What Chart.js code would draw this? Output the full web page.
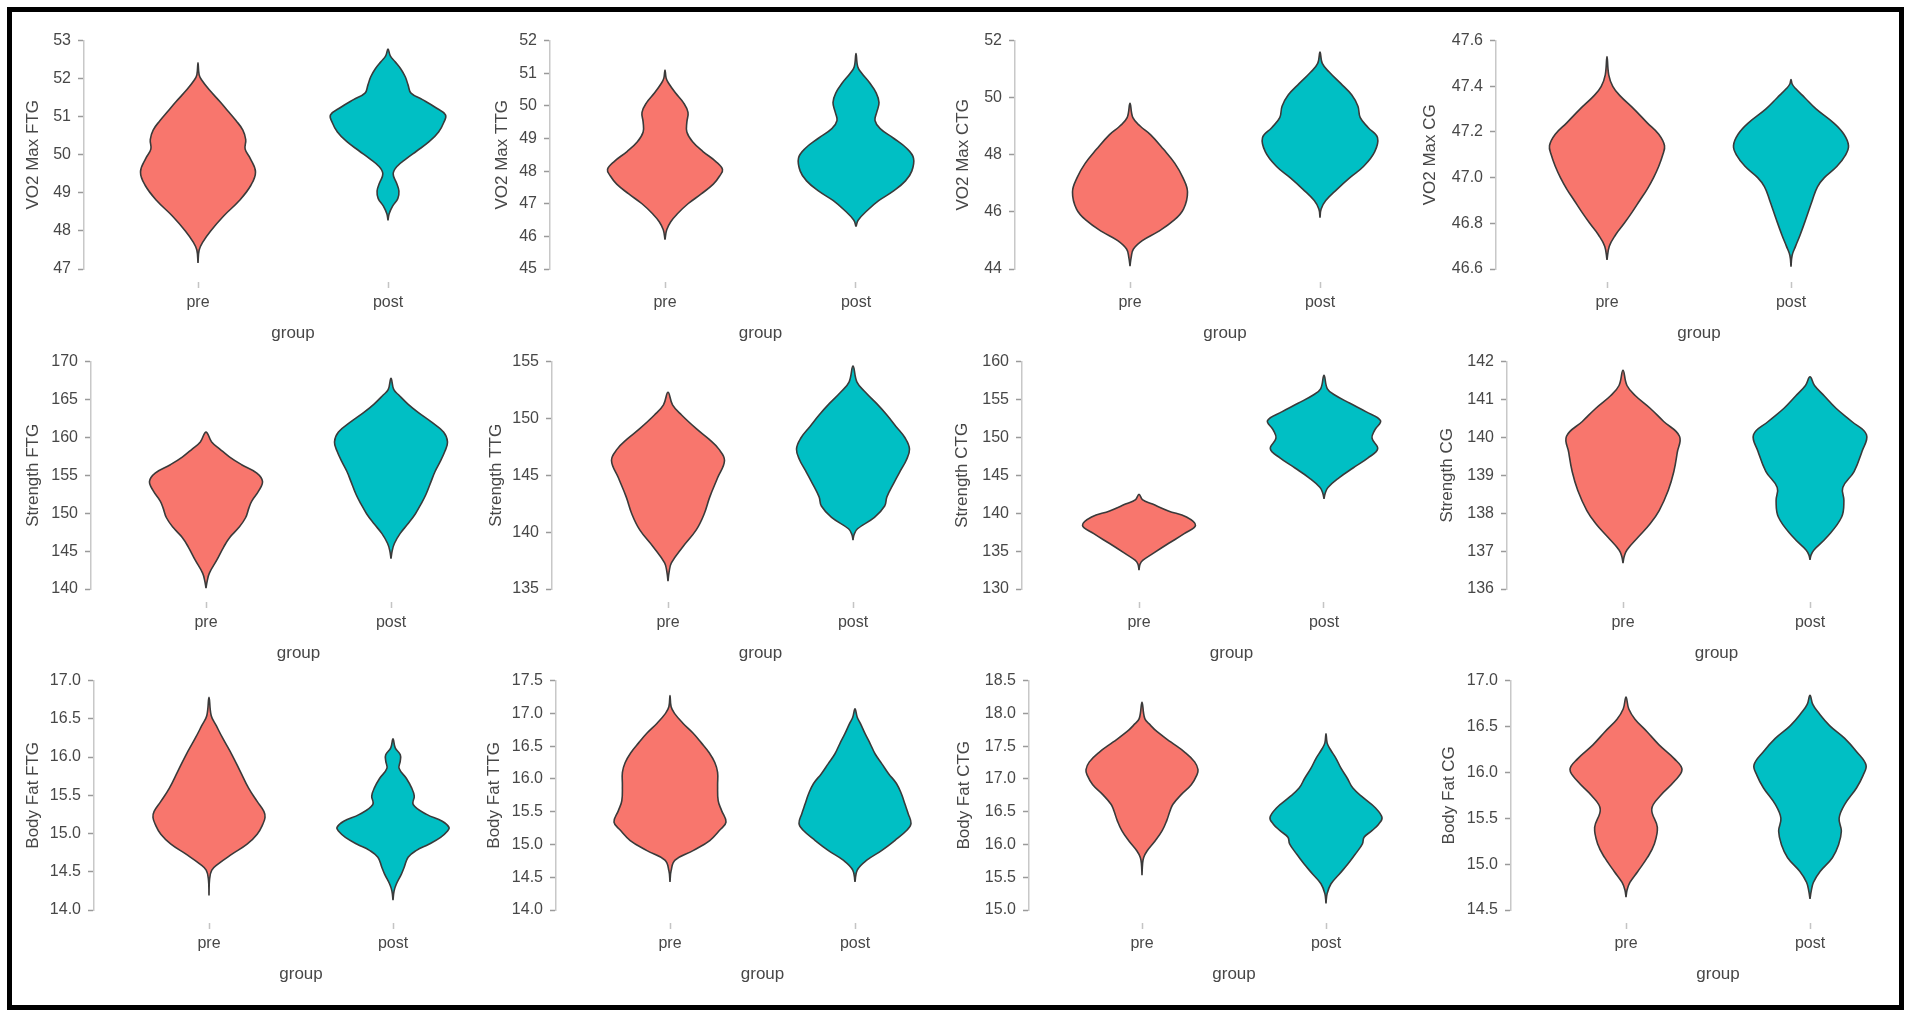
<!DOCTYPE html>
<html><head><meta charset="utf-8">
<script src="https://cdn.jsdelivr.net/npm/chart.js@4.4.0/dist/chart.umd.min.js"></script>
<style>
html,body{margin:0;padding:0;background:#fff;width:1909px;height:1016px;overflow:hidden;}
#stage{position:relative;width:1909px;height:1016px;overflow:hidden;}
#frame{position:absolute;left:7px;top:7px;width:1897px;height:1003px;border:5px solid #000;box-sizing:border-box;z-index:5;pointer-events:none;}
canvas{position:absolute;}
</style></head><body><div id="stage"><div id="frame"></div></div>
<script>
// ---------- data ----------
const groups = ['pre', 'post'];
const panelTitles = ['VO2 Max FTG','VO2 Max TTG','VO2 Max CTG','VO2 Max CG',
  'Strength FTG','Strength TTG','Strength CTG','Strength CG',
  'Body Fat FTG','Body Fat TTG','Body Fat CTG','Body Fat CG'];

const vo2FtgTicks = [47,48,49,50,51,52,53];
const vo2TtgTicks = [45,46,47,48,49,50,51,52];
const vo2CtgTicks = [44,46,48,50,52];
const vo2CgTicks  = [46.6,46.8,47.0,47.2,47.4,47.6];
const strFtgTicks = [140,145,150,155,160,165,170];
const strTtgTicks = [135,140,145,150,155];
const strCtgTicks = [130,135,140,145,150,155,160];
const strCgTicks  = [136,137,138,139,140,141,142];
const fatFtgTicks = [14.0,14.5,15.0,15.5,16.0,16.5,17.0];
const fatTtgTicks = [14.0,14.5,15.0,15.5,16.0,16.5,17.0,17.5];
const fatCtgTicks = [15.0,15.5,16.0,16.5,17.0,17.5,18.0,18.5];
const fatCgTicks  = [14.5,15.0,15.5,16.0,16.5,17.0];
const tickDecimals = [0,0,0,1, 0,0,0,0, 1,1,1,1];

// violin outlines: value levels (Y) and relative density half-widths (W)
const vo2FtgPreY = [47.16,47.5,47.7,48.0,48.4,48.8,49.2,49.55,49.9,50.15,50.4,50.65,50.9,51.15,51.4,51.7,51.95,52.1,52.42];
const vo2FtgPreW = [0,0.02,0.08,0.22,0.45,0.72,0.92,1.0,0.91,0.82,0.83,0.78,0.66,0.52,0.38,0.2,0.07,0.02,0];
const vo2FtgPostY = [48.28,48.45,48.65,48.85,49.05,49.25,49.5,49.7,49.9,50.1,50.35,50.6,50.85,51.05,51.25,51.45,51.62,51.83,52.05,52.26,52.45,52.6,52.78];
const vo2FtgPostW = [0,0.02,0.08,0.17,0.19,0.15,0.09,0.16,0.32,0.5,0.72,0.88,0.97,1.0,0.82,0.6,0.4,0.35,0.3,0.22,0.12,0.04,0];

const vo2TtgPreY = [45.9,46.2,46.45,46.7,47.0,47.3,47.6,47.85,48.05,48.3,48.6,48.9,49.2,49.5,49.8,50.1,50.4,50.7,50.85,51.1];
const vo2TtgPreW = [0,0.03,0.1,0.22,0.4,0.63,0.84,0.95,1.0,0.88,0.66,0.48,0.38,0.38,0.4,0.32,0.18,0.06,0.02,0];
const vo2TtgPostY = [46.3,46.5,46.8,47.1,47.4,47.7,48.0,48.4,48.7,49.0,49.3,49.55,49.8,50.1,50.4,50.7,51.0,51.2,51.6];
const vo2TtgPostW = [0,0.04,0.2,0.4,0.66,0.86,0.97,1.0,0.88,0.66,0.42,0.33,0.36,0.4,0.35,0.24,0.1,0.03,0];

const vo2CtgPreY = [44.1,44.4,44.7,45.0,45.3,45.7,46.1,46.7,47.2,47.7,48.2,48.7,49.0,49.3,49.8];
const vo2CtgPreW = [0,0.02,0.06,0.22,0.48,0.76,0.93,1.0,0.92,0.78,0.58,0.36,0.18,0.05,0];
const vo2CtgPostY = [45.8,46.1,46.4,46.8,47.2,47.6,48.1,48.6,48.95,49.3,49.7,50.1,50.5,50.9,51.2,51.6];
const vo2CtgPostW = [0,0.02,0.1,0.3,0.52,0.76,0.95,1.0,0.84,0.7,0.66,0.55,0.36,0.16,0.04,0];

const vo2CgPreY = [46.64,46.7,46.75,46.8,46.85,46.9,46.95,47.0,47.05,47.1,47.14,47.19,47.24,47.3,47.36,47.4,47.45,47.53];
const vo2CgPreW = [0,0.04,0.15,0.3,0.44,0.57,0.7,0.81,0.9,0.97,1.0,0.9,0.7,0.47,0.22,0.1,0.03,0];
const vo2CgPostY = [46.61,46.66,46.7,46.75,46.82,46.9,46.96,47.0,47.05,47.1,47.14,47.19,47.24,47.3,47.35,47.39,47.41,47.43];
const vo2CgPostW = [0,0.02,0.08,0.16,0.26,0.37,0.46,0.58,0.8,0.95,1.0,0.92,0.74,0.44,0.24,0.08,0.02,0];

const strFtgPreY = [140.1,141,142.1,143.8,145.5,146.8,148.1,149.4,150.7,151.6,152.9,154.2,155.3,156.4,157.4,158.5,159.4,160.7];
const strFtgPreW = [0,0.02,0.06,0.19,0.31,0.42,0.58,0.7,0.76,0.81,0.93,1.0,0.9,0.63,0.42,0.24,0.1,0];
const strFtgPostY = [144,145,146,147.3,148.6,149.9,151.2,152.5,154.2,155.5,156.8,158.1,159.4,160.7,162,163.3,164.4,165.5,166.3,167.8];
const strFtgPostW = [0,0.02,0.06,0.16,0.3,0.43,0.53,0.62,0.71,0.78,0.87,0.95,1.0,0.93,0.72,0.48,0.3,0.15,0.05,0];

const strTtgPreY = [135.7,136.5,137.3,138.7,140.2,141.6,143.1,144.8,146.3,147.3,148.2,149.1,150.3,151.2,152.3];
const strTtgPreW = [0,0.02,0.06,0.26,0.5,0.64,0.74,0.88,1.0,0.9,0.72,0.5,0.24,0.08,0];
const strTtgPostY = [139.3,139.8,140.3,141.3,142.3,143.1,144.3,145.5,146.3,147.3,148.3,149.3,150.3,151.3,152.3,153.2,154.6];
const strTtgPostW = [0,0.02,0.08,0.38,0.56,0.6,0.72,0.85,0.94,1.0,0.92,0.76,0.6,0.42,0.22,0.07,0];

const strCtgPreY = [132.5,133.3,133.8,134.7,136,137.3,138.4,139.5,140.3,141.2,141.8,142.5];
const strCtgPreW = [0,0.02,0.07,0.25,0.52,0.8,1.0,0.84,0.52,0.24,0.06,0];
const strCtgPostY = [141.9,142.6,143.4,144.7,146,147.3,148.5,149.9,151,152.2,153.4,154.5,155.6,156.4,158.2];
const strCtgPostW = [0,0.02,0.07,0.27,0.52,0.78,0.95,0.85,0.9,1.0,0.74,0.46,0.19,0.06,0];

const strCgPreY = [136.68,136.85,137.03,137.37,137.72,138.07,138.6,139.1,139.6,140.03,140.42,140.77,141.1,141.37,141.77];
const strCgPreW = [0,0.02,0.07,0.27,0.48,0.64,0.8,0.9,0.96,1.0,0.72,0.48,0.22,0.07,0];
const strCgPostY = [136.77,136.9,137.03,137.37,137.9,138.33,138.68,139.1,139.63,140.07,140.42,140.77,141.1,141.37,141.6];
const strCgPostW = [0,0.02,0.07,0.3,0.56,0.6,0.58,0.78,0.92,1.0,0.74,0.46,0.25,0.08,0];

const fatFtgPreY = [14.19,14.4,14.52,14.6,14.73,14.86,14.99,15.12,15.21,15.29,15.42,15.59,15.81,16.03,16.24,16.41,16.54,16.78];
const fatFtgPreW = [0,0.01,0.05,0.16,0.41,0.68,0.86,0.96,1.0,0.98,0.86,0.71,0.56,0.41,0.25,0.13,0.04,0];
const fatFtgPostY = [14.13,14.25,14.34,14.47,14.56,14.69,14.78,14.86,14.95,15.03,15.08,15.16,15.25,15.38,15.49,15.6,15.72,15.85,15.95,16.03,16.12,16.24];
const fatFtgPostW = [0,0.02,0.06,0.15,0.2,0.27,0.42,0.64,0.85,0.97,1.0,0.88,0.6,0.36,0.38,0.33,0.24,0.11,0.13,0.13,0.04,0];

const fatTtgPreY = [14.43,14.6,14.76,14.91,15.06,15.22,15.34,15.52,15.67,15.9,16.1,16.25,16.4,16.55,16.7,16.85,17.0,17.1,17.27];
const fatTtgPreW = [0,0.02,0.09,0.42,0.71,0.89,1.0,0.92,0.86,0.85,0.85,0.8,0.7,0.56,0.41,0.23,0.08,0.02,0];
const fatTtgPostY = [14.43,14.61,14.76,14.91,15.06,15.22,15.32,15.47,15.62,15.77,15.93,16.08,16.23,16.38,16.54,16.69,16.84,16.94,17.07];
const fatTtgPostW = [0,0.04,0.21,0.48,0.71,0.93,1.0,0.95,0.89,0.83,0.74,0.6,0.48,0.36,0.27,0.18,0.1,0.04,0];

const fatCtgPreY = [15.53,15.7,15.8,15.9,16.06,16.21,16.36,16.51,16.61,16.76,16.91,17.06,17.14,17.26,17.41,17.56,17.72,17.82,17.92,18.17];
const fatCtgPreW = [0,0.01,0.03,0.09,0.24,0.36,0.44,0.5,0.55,0.7,0.88,0.98,1.0,0.94,0.76,0.52,0.27,0.15,0.05,0];
const fatCtgPostY = [15.1,15.25,15.4,15.55,15.7,15.86,16.01,16.11,16.21,16.31,16.41,16.56,16.71,16.86,17.01,17.16,17.31,17.46,17.55,17.69];
const fatCtgPostW = [0,0.02,0.09,0.24,0.39,0.53,0.65,0.68,0.82,0.94,1.0,0.88,0.67,0.48,0.38,0.27,0.18,0.07,0.02,0];

const fatCgPreY = [14.64,14.72,14.8,14.92,15.07,15.21,15.4,15.6,15.75,15.9,16.03,16.15,16.3,16.44,16.58,16.69,16.82];
const fatCgPreW = [0,0.02,0.07,0.21,0.38,0.5,0.56,0.46,0.62,0.86,1.0,0.86,0.59,0.38,0.16,0.05,0];
const fatCgPostY = [14.62,14.7,14.8,14.92,15.07,15.21,15.36,15.5,15.65,15.83,15.97,16.08,16.22,16.37,16.51,16.66,16.74,16.84];
const fatCgPostW = [0,0.02,0.06,0.18,0.4,0.51,0.56,0.52,0.62,0.83,0.95,1.0,0.84,0.62,0.35,0.14,0.05,0];

const panelTicks = [vo2FtgTicks,vo2TtgTicks,vo2CtgTicks,vo2CgTicks,strFtgTicks,strTtgTicks,strCtgTicks,strCgTicks,fatFtgTicks,fatTtgTicks,fatCtgTicks,fatCgTicks];
const panelViolins = [
  [[vo2FtgPreY,vo2FtgPreW],[vo2FtgPostY,vo2FtgPostW]],
  [[vo2TtgPreY,vo2TtgPreW],[vo2TtgPostY,vo2TtgPostW]],
  [[vo2CtgPreY,vo2CtgPreW],[vo2CtgPostY,vo2CtgPostW]],
  [[vo2CgPreY,vo2CgPreW],[vo2CgPostY,vo2CgPostW]],
  [[strFtgPreY,strFtgPreW],[strFtgPostY,strFtgPostW]],
  [[strTtgPreY,strTtgPreW],[strTtgPostY,strTtgPostW]],
  [[strCtgPreY,strCtgPreW],[strCtgPostY,strCtgPostW]],
  [[strCgPreY,strCgPreW],[strCgPostY,strCgPostW]],
  [[fatFtgPreY,fatFtgPreW],[fatFtgPostY,fatFtgPostW]],
  [[fatTtgPreY,fatTtgPreW],[fatTtgPostY,fatTtgPostW]],
  [[fatCtgPreY,fatCtgPreW],[fatCtgPostY,fatCtgPostW]],
  [[fatCgPreY,fatCgPreW],[fatCgPostY,fatCgPostW]]
];

// ---------- layout (pixels) ----------
// [axisX, preX, postX, topY, bottomY, titleGap, violinHalfPx]
const layout = [
  [84,198,388,38,269,51,57.5],[550,665,856,38,269,48,57.5],[1015,1130,1320,38,269,52,57.5],[1496,1607,1791,38,269,66,57.5],
  [91,206,391,359,589,58,56.5],[552,668,853,359,589,56,56.5],[1022,1139,1324,359,589,60,56.5],[1507,1623,1810,359,589,60,56.5],
  [94,209,393,678,910,61,56],[556,670,855,678,910,62,56],[1029,1142,1326,678,910,65,56],[1511,1626,1810,678,910,62,56]
];
const fillColors = ['#F8766D', '#00BFC4'];
const FONT = "'Liberation Sans', Arial, Helvetica, sans-serif";
const YW = 100, XH = 80, PT = 14, PR = 10;
const titleSize = 17, tickSize = 16;
const textColor = '#474747';

function violinPoints(center, hw, ys, ws) {
  const pts = [];
  for (let i = 0; i < ys.length; i++) pts.push({x: center + ws[i] * hw, y: ys[i]});
  for (let i = ys.length - 2; i >= 0; i--) pts.push({x: center - ws[i] * hw, y: ys[i]});
  return pts;
}

const stage = document.getElementById('stage');
layout.forEach((L, p) => {
  const [axisX, preX, postX, topY, botY, gap, halfPx] = L;
  const unit = postX - preX;
  const side = preX - axisX;
  const rightX = postX + side;
  const cv = document.createElement('canvas');
  const w = YW + (rightX - axisX) + PR;
  const h = PT + (botY - topY) + XH;
  cv.width = w; cv.height = h;
  cv.style.left = (axisX - YW) + 'px';
  cv.style.top = (topY - PT) + 'px';
  cv.style.width = w + 'px'; cv.style.height = h + 'px';
  stage.appendChild(cv);
  const ticks = panelTicks[p];
  const dec = tickDecimals[p];
  const hw = halfPx / unit;
  const datasets = panelViolins[p].map((v, g) => ({
    data: violinPoints(g + 1, hw, v[0], v[1]),
    fill: 'shape',
    backgroundColor: fillColors[g],
    borderColor: '#3a3a3a',
    borderWidth: 1.6,
    borderJoinStyle: 'round',
    pointRadius: 0,
    tension: 0.4
  }));
  const lhTitle = titleSize * 1.2;
  new Chart(cv, {
    type: 'line',
    data: {datasets},
    options: {
      responsive: false, animation: false, events: [],
      devicePixelRatio: 1,
      layout: {padding: {top: PT, right: PR, left: 0, bottom: 0}},
      plugins: {legend: {display: false}, tooltip: {enabled: false}},
      scales: {
        x: {
          type: 'linear', min: 1 - side / unit, max: 2 + side / unit,
          afterFit: s => { s.height = XH; },
          afterBuildTicks: s => { s.ticks = groups.map((g, i) => ({value: i + 1})); },
          ticks: {callback: v => groups[Math.round(v) - 1], font: {family: FONT, size: tickSize}, color: textColor, padding: 5, maxRotation: 0, autoSkip: false},
          grid: {drawOnChartArea: false, drawTicks: true, tickLength: 19, tickColor: '#c4c4c4', tickWidth: 1.5, tickBorderDash: [0, 13, 6, 40]},
          border: {display: false},
          title: {display: true, text: 'group', font: {family: FONT, size: titleSize}, color: textColor, padding: {top: 0, bottom: 5}}
        },
        y: {
          type: 'linear', min: ticks[0], max: ticks[ticks.length - 1],
          afterFit: s => { s.width = YW; },
          afterBuildTicks: s => { s.ticks = ticks.map(v => ({value: v})); },
          ticks: {callback: v => Number(v).toFixed(dec), font: {family: FONT, size: tickSize}, color: textColor, padding: 7, autoSkip: false},
          grid: {drawOnChartArea: false, drawTicks: true, tickLength: 6, tickColor: '#9a9a9a', tickWidth: 1.5},
          border: {display: true, color: '#c8c8c8', width: 1.5},
          title: {display: true, text: panelTitles[p], font: {family: FONT, size: titleSize}, color: textColor, padding: {top: YW - lhTitle / 2 - gap, bottom: 0}}
        }
      }
    }
  });
});
</script></body></html>
